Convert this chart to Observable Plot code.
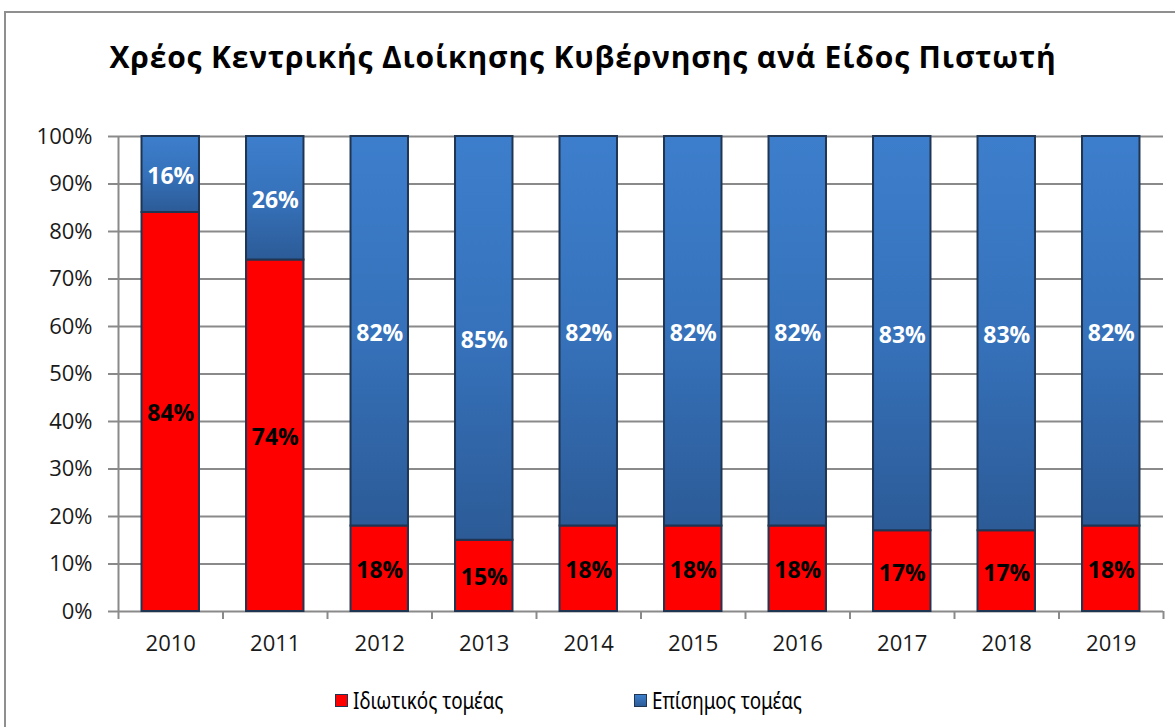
<!DOCTYPE html>
<html><head><meta charset="utf-8">
<script src="https://cdn.jsdelivr.net/npm/d3@7"></script>
<script src="https://cdn.jsdelivr.net/npm/@observablehq/plot@0.6"></script>
<style>
html,body{margin:0;padding:0;background:#fff;}
body{width:1175px;height:727px;position:relative;overflow:hidden;font-family:"Open Sans",sans-serif;}
#frame{position:absolute;left:4px;top:11px;width:1200px;height:760px;border:2px solid #8f8f8f;box-sizing:border-box;}
#title{position:absolute;top:37px;left:0;width:1166px;text-align:center;font-weight:bold;font-size:30px;letter-spacing:0.85px;line-height:40px;color:#000;white-space:nowrap;}
#chart{position:absolute;top:100px;left:0;}
#legend{position:absolute;top:685px;left:0;width:1175px;height:30px;}
.item{position:absolute;top:0;display:flex;align-items:center;font-family:"Noto Sans",sans-serif;font-size:23px;color:#000;line-height:30px;white-space:nowrap;}
.item span{display:inline-block;transform:scaleX(0.82);transform-origin:left center;}
.sw{width:11px;height:11px;border:1.5px solid #1f3552;margin-right:5px;}
</style>
</head><body>
<div id="frame"></div>
<div id="title">Χρέος Κεντρικής Διοίκησης Κυβέρνησης ανά Είδος Πιστωτή</div>
<div id="chart"></div>
<div id="legend"></div>
<script>
const years = [2010, 2011, 2012, 2013, 2014, 2015, 2016, 2017, 2018, 2019];
const privateSector = [84, 74, 18, 15, 18, 18, 18, 17, 17, 18];
const officialSector = [16, 26, 82, 85, 82, 82, 82, 83, 83, 82];
const seriesNames = ["Ιδιωτικός τομέας", "Επίσημος τομέας"];
const yTicks = [0, 10, 20, 30, 40, 50, 60, 70, 80, 90, 100];

const halfBar = 0.275;
const rows = years.flatMap((yr, i) => [
  {year: yr, sector: seriesNames[0], value: privateSector[i], y1: 0, y2: privateSector[i]},
  {year: yr, sector: seriesNames[1], value: officialSector[i], y1: privateSector[i], y2: privateSector[i] + officialSector[i]}
]);
const bounds = [years[0] - 0.5, ...years.map(y => y + 0.5)];

const grid = "#8a8a8a";
const chart = Plot.plot({
  width: 1175,
  height: 560,
  marginTop: 36,
  marginBottom: 49,
  marginLeft: 118,
  marginRight: 12,
  style: {fontFamily: "'Open Sans', sans-serif", background: "transparent"},
  x: {type: "linear", domain: [years[0] - 0.5, years[years.length - 1] + 0.5]},
  y: {domain: [0, 100]},
  marks: [
    Plot.ruleY(yTicks, {y: d => d, stroke: grid, strokeWidth: 2}),
    Plot.axisY({ticks: yTicks, tickSize: 10, tickPadding: 16, tickFormat: d => d + "%", stroke: grid, strokeWidth: 2, fontSize: 22, fill: "#1a1a1a", label: null}),
    Plot.ruleX([bounds[0]], {x: d => d, stroke: grid, strokeWidth: 2}),
    Plot.axisX({ticks: bounds, tickSize: 8, tickFormat: () => "", stroke: grid, strokeWidth: 2, label: null}),
    Plot.axisX({ticks: years, tickSize: 0, tickPadding: 24, tickFormat: d => String(d), fontSize: 22, fill: "#1a1a1a", label: null}),
    Plot.rect(rows, {
      x1: d => d.year - halfBar, x2: d => d.year + halfBar, y1: "y1", y2: "y2",
      fill: d => d.sector === seriesNames[0] ? "#ff0000" : "url(#blueGrad)",
      stroke: "#1f3552", strokeWidth: 2
    }),
    Plot.text(rows, {
      x: "year", y: d => (d.y1 + d.y2) / 2, text: d => d.value + "%",
      fill: d => d.sector === seriesNames[0] ? "#000000" : "#ffffff",
      fontWeight: "bold", fontSize: 23, dy: 2
    })
  ]
});
const ns = "http://www.w3.org/2000/svg";
const defs = document.createElementNS(ns, "defs");
const lg = document.createElementNS(ns, "linearGradient");
lg.setAttribute("id", "blueGrad");
lg.setAttribute("x1", "0"); lg.setAttribute("y1", "0"); lg.setAttribute("x2", "0"); lg.setAttribute("y2", "1");
[["0", "#3d7ecc"], ["0.5", "#3672bb"], ["1", "#2c5b97"]].forEach(([o, c]) => {
  const s = document.createElementNS(ns, "stop");
  s.setAttribute("offset", o); s.setAttribute("stop-color", c);
  lg.appendChild(s);
});
defs.appendChild(lg);
chart.insertBefore(defs, chart.firstChild);
document.getElementById("chart").appendChild(chart);

const legend = document.getElementById("legend");
const legendColors = ["#ff0000", "linear-gradient(#3d7ecc,#2c5b97)"];
const legendLefts = [335, 634];
seriesNames.forEach((n, i) => {
  const it = document.createElement("div");
  it.className = "item";
  it.style.left = legendLefts[i] + "px";
  const sw = document.createElement("div");
  sw.className = "sw";
  sw.style.background = legendColors[i];
  it.appendChild(sw);
  const t = document.createElement("span");
  t.textContent = n;
  it.appendChild(t);
  legend.appendChild(it);
});
</script>
</body></html>
